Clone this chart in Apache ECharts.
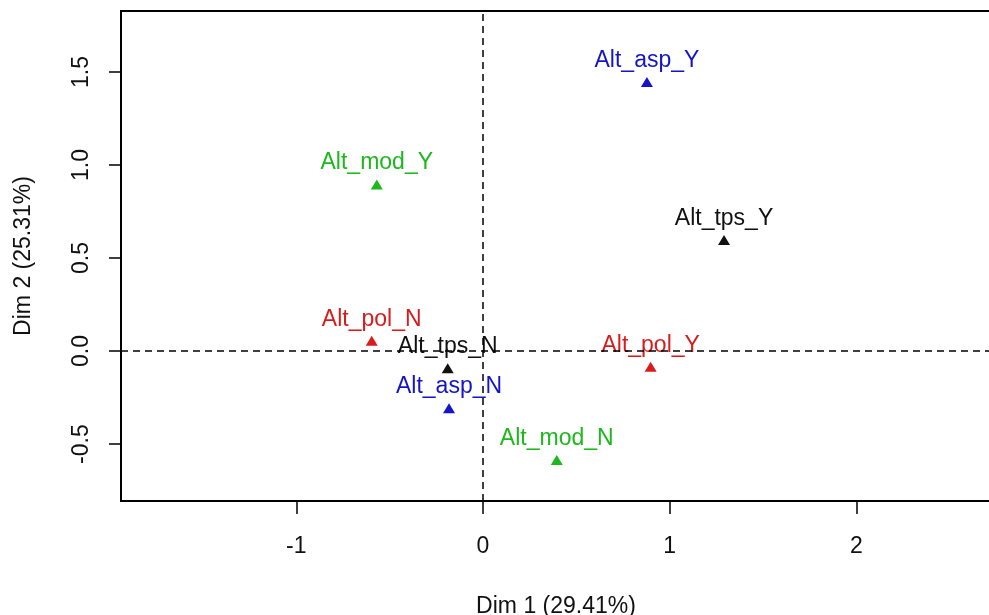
<!DOCTYPE html>
<html>
<head>
<meta charset="utf-8">
<script src="https://cdn.jsdelivr.net/npm/echarts@6/dist/echarts.min.js"></script>
<style>
  html, body { margin: 0; padding: 0; background: #fff; }
  #chart { width: 989px; height: 615px; }
</style>
</head>
<body>
<div id="chart"></div>
<script>
// MCA 变量类别坐标
const catNames = ['Alt_asp_Y', 'Alt_mod_Y', 'Alt_tps_Y', 'Alt_pol_N', 'Alt_tps_N', 'Alt_pol_Y', 'Alt_asp_N', 'Alt_mod_N'];
const dim1 = [0.878, -0.569, 1.291, -0.596, -0.189, 0.898, -0.182, 0.395];
const dim2 = [1.446, 0.896, 0.597, 0.055, -0.093, -0.084, -0.308, -0.586];
const catColors = ['#1414c8', '#1cb81c', '#111111', '#d81c1c', '#111111', '#d81c1c', '#1414c8', '#1cb81c'];

const xTicks = [-1, 0, 1, 2];
const yTicks = [-0.5, 0.0, 0.5, 1.0, 1.5];

const FONT = "'Liberation Sans', Arial, sans-serif";

const chart = echarts.init(document.getElementById('chart'));

const points = catNames.map((n, i) => ({
    name: n,
    value: [dim1[i], dim2[i]],
    itemStyle: { color: catColors[i], opacity: 1 },
    label: { color: catColors[i] }
}));

const option = {
    backgroundColor: '#fff',
    animation: false,
    textStyle: { fontFamily: FONT },
    grid: {
        left: 121, top: 11, width: 870, height: 490,
        outerBoundsMode: 'none',
        containLabel: false,
        show: true, borderColor: '#000', borderWidth: 2, backgroundColor: 'transparent'
    },
    xAxis: {
        type: 'value',
        min: -1.939, max: 2.721,
        name: 'Dim 1 (29.41%)',
        nameLocation: 'middle',
        nameGap: 94,
        nameTextStyle: { color: '#111', fontSize: 23, fontFamily: FONT },
        axisLine: { show: false, onZero: false },
        splitLine: { show: false },
        axisTick: { show: true, inside: false, length: 13, customValues: xTicks,
            lineStyle: { color: '#000', width: 1.5 } },
        axisLabel: { customValues: xTicks, margin: 34, color: '#111', fontSize: 23, fontFamily: FONT,
            formatter: v => String(v) }
    },
    yAxis: {
        type: 'value',
        min: -0.806, max: 1.828,
        name: 'Dim 2 (25.31%)',
        nameLocation: 'middle',
        nameRotate: 90,
        nameGap: 86,
        nameTextStyle: { color: '#111', fontSize: 23, fontFamily: FONT },
        axisLine: { show: false, onZero: false },
        splitLine: { show: false },
        axisTick: { show: true, inside: false, length: 12, customValues: yTicks,
            lineStyle: { color: '#000', width: 1.5 } },
        axisLabel: { customValues: yTicks, rotate: 90, margin: 28, color: '#111', fontSize: 23, fontFamily: FONT,
            formatter: v => v.toFixed(1) }
    },
    series: [{
        type: 'scatter',
        symbol: 'triangle',
        symbolSize: [12, 10],
        data: points,
        itemStyle: { opacity: 1 },
        label: {
            show: true,
            position: 'top',
            distance: 5,
            fontSize: 23,
            fontFamily: FONT,
            formatter: p => p.name
        },
        markLine: {
            silent: true,
            symbol: 'none',
            label: { show: false },
            lineStyle: { color: '#000', type: [7, 5], width: 1.5, opacity: 1 },
            data: [{ xAxis: 0 }, { yAxis: 0 }]
        },
        z: 3
    }]
};

chart.setOption(option);
</script>
</body>
</html>
